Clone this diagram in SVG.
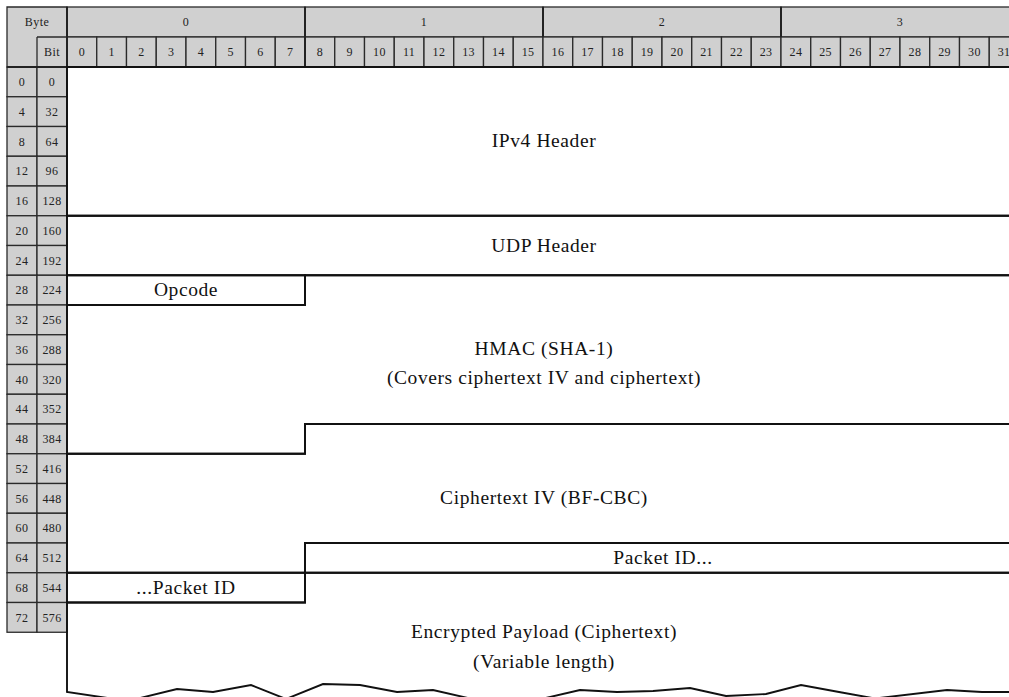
<svg xmlns="http://www.w3.org/2000/svg" width="1009" height="697" viewBox="0 0 1009 697">
<style>
.bg{fill:#ffffff}
.hc{fill:#d0d0d0;stroke:#2a2a2a;stroke-width:1.3}
.hl{fill:none;stroke:#2a2a2a;stroke-width:1.3}
.hb{fill:none;stroke:#222;stroke-width:2}
.ht{font-family:"Liberation Serif",serif;font-size:12px;fill:#222;text-anchor:middle;letter-spacing:0.4px}
.f{fill:none;stroke:#111;stroke-width:1.9;stroke-linejoin:miter}
.t{font-family:"Liberation Serif",serif;font-size:19.5px;fill:#111;text-anchor:middle;letter-spacing:0.6px}
</style>
<rect class="bg" x="0" y="0" width="1009" height="697"/>
<g id="header">
<path class="hc" d="M7,7 H67 V67 H7 Z"/>
<path class="hl" d="M37,37 H67 M37,37 V67"/>
<text class="ht" x="37" y="26">Byte</text>
<text class="ht" x="52" y="56">Bit</text>
<rect class="hc" x="67" y="7" width="238" height="30"/>
<rect class="hc" x="305" y="7" width="238" height="30"/>
<rect class="hc" x="543" y="7" width="238" height="30"/>
<rect class="hc" x="781" y="7" width="238" height="30"/>
<text class="ht" x="186" y="26">0</text>
<text class="ht" x="424" y="26">1</text>
<text class="ht" x="662" y="26">2</text>
<text class="ht" x="900" y="26">3</text>
<g id="bits">
<rect class="hc" x="67" y="37" width="29.75" height="30"/><text class="ht" x="82" y="56">0</text>
<rect class="hc" x="96.75" y="37" width="29.75" height="30"/><text class="ht" x="111.6" y="56">1</text>
<rect class="hc" x="126.5" y="37" width="29.75" height="30"/><text class="ht" x="141.4" y="56">2</text>
<rect class="hc" x="156.25" y="37" width="29.75" height="30"/><text class="ht" x="171.1" y="56">3</text>
<rect class="hc" x="186" y="37" width="29.75" height="30"/><text class="ht" x="200.9" y="56">4</text>
<rect class="hc" x="215.75" y="37" width="29.75" height="30"/><text class="ht" x="230.6" y="56">5</text>
<rect class="hc" x="245.5" y="37" width="29.75" height="30"/><text class="ht" x="260.4" y="56">6</text>
<rect class="hc" x="275.25" y="37" width="29.75" height="30"/><text class="ht" x="290.1" y="56">7</text>
<rect class="hc" x="305" y="37" width="29.75" height="30"/><text class="ht" x="319.9" y="56">8</text>
<rect class="hc" x="334.75" y="37" width="29.75" height="30"/><text class="ht" x="349.6" y="56">9</text>
<rect class="hc" x="364.5" y="37" width="29.75" height="30"/><text class="ht" x="379.4" y="56">10</text>
<rect class="hc" x="394.25" y="37" width="29.75" height="30"/><text class="ht" x="409.1" y="56">11</text>
<rect class="hc" x="424" y="37" width="29.75" height="30"/><text class="ht" x="438.9" y="56">12</text>
<rect class="hc" x="453.75" y="37" width="29.75" height="30"/><text class="ht" x="468.6" y="56">13</text>
<rect class="hc" x="483.5" y="37" width="29.75" height="30"/><text class="ht" x="498.4" y="56">14</text>
<rect class="hc" x="513.25" y="37" width="29.75" height="30"/><text class="ht" x="528.1" y="56">15</text>
<rect class="hc" x="543" y="37" width="29.75" height="30"/><text class="ht" x="557.9" y="56">16</text>
<rect class="hc" x="572.75" y="37" width="29.75" height="30"/><text class="ht" x="587.6" y="56">17</text>
<rect class="hc" x="602.5" y="37" width="29.75" height="30"/><text class="ht" x="617.4" y="56">18</text>
<rect class="hc" x="632.25" y="37" width="29.75" height="30"/><text class="ht" x="647.1" y="56">19</text>
<rect class="hc" x="662" y="37" width="29.75" height="30"/><text class="ht" x="676.9" y="56">20</text>
<rect class="hc" x="691.75" y="37" width="29.75" height="30"/><text class="ht" x="706.6" y="56">21</text>
<rect class="hc" x="721.5" y="37" width="29.75" height="30"/><text class="ht" x="736.4" y="56">22</text>
<rect class="hc" x="751.25" y="37" width="29.75" height="30"/><text class="ht" x="766.1" y="56">23</text>
<rect class="hc" x="781" y="37" width="29.75" height="30"/><text class="ht" x="795.9" y="56">24</text>
<rect class="hc" x="810.75" y="37" width="29.75" height="30"/><text class="ht" x="825.6" y="56">25</text>
<rect class="hc" x="840.5" y="37" width="29.75" height="30"/><text class="ht" x="855.4" y="56">26</text>
<rect class="hc" x="870.25" y="37" width="29.75" height="30"/><text class="ht" x="885.1" y="56">27</text>
<rect class="hc" x="900" y="37" width="29.75" height="30"/><text class="ht" x="914.9" y="56">28</text>
<rect class="hc" x="929.75" y="37" width="29.75" height="30"/><text class="ht" x="944.6" y="56">29</text>
<rect class="hc" x="959.5" y="37" width="29.75" height="30"/><text class="ht" x="974.4" y="56">30</text>
<rect class="hc" x="989.25" y="37" width="29.75" height="30"/><text class="ht" x="1004.1" y="56">31</text>
</g>
<path class="hb" d="M67,7 V67 M305,7 V67 M543,7 V37 M781,7 V37"/>
<g id="rows">
<rect class="hc" x="7" y="67" width="30" height="29.75"/><rect class="hc" x="37" y="67" width="30" height="29.75"/><text class="ht" x="22" y="86">0</text><text class="ht" x="52" y="86">0</text>
<rect class="hc" x="7" y="96.75" width="30" height="29.75"/><rect class="hc" x="37" y="96.75" width="30" height="29.75"/><text class="ht" x="22" y="115.8">4</text><text class="ht" x="52" y="115.8">32</text>
<rect class="hc" x="7" y="126.5" width="30" height="29.75"/><rect class="hc" x="37" y="126.5" width="30" height="29.75"/><text class="ht" x="22" y="145.5">8</text><text class="ht" x="52" y="145.5">64</text>
<rect class="hc" x="7" y="156.25" width="30" height="29.75"/><rect class="hc" x="37" y="156.25" width="30" height="29.75"/><text class="ht" x="22" y="175.3">12</text><text class="ht" x="52" y="175.3">96</text>
<rect class="hc" x="7" y="186" width="30" height="29.75"/><rect class="hc" x="37" y="186" width="30" height="29.75"/><text class="ht" x="22" y="205">16</text><text class="ht" x="52" y="205">128</text>
<rect class="hc" x="7" y="215.75" width="30" height="29.75"/><rect class="hc" x="37" y="215.75" width="30" height="29.75"/><text class="ht" x="22" y="234.8">20</text><text class="ht" x="52" y="234.8">160</text>
<rect class="hc" x="7" y="245.5" width="30" height="29.75"/><rect class="hc" x="37" y="245.5" width="30" height="29.75"/><text class="ht" x="22" y="264.5">24</text><text class="ht" x="52" y="264.5">192</text>
<rect class="hc" x="7" y="275.25" width="30" height="29.75"/><rect class="hc" x="37" y="275.25" width="30" height="29.75"/><text class="ht" x="22" y="294.3">28</text><text class="ht" x="52" y="294.3">224</text>
<rect class="hc" x="7" y="305" width="30" height="29.75"/><rect class="hc" x="37" y="305" width="30" height="29.75"/><text class="ht" x="22" y="324">32</text><text class="ht" x="52" y="324">256</text>
<rect class="hc" x="7" y="334.75" width="30" height="29.75"/><rect class="hc" x="37" y="334.75" width="30" height="29.75"/><text class="ht" x="22" y="353.8">36</text><text class="ht" x="52" y="353.8">288</text>
<rect class="hc" x="7" y="364.5" width="30" height="29.75"/><rect class="hc" x="37" y="364.5" width="30" height="29.75"/><text class="ht" x="22" y="383.5">40</text><text class="ht" x="52" y="383.5">320</text>
<rect class="hc" x="7" y="394.25" width="30" height="29.75"/><rect class="hc" x="37" y="394.25" width="30" height="29.75"/><text class="ht" x="22" y="413.3">44</text><text class="ht" x="52" y="413.3">352</text>
<rect class="hc" x="7" y="424" width="30" height="29.75"/><rect class="hc" x="37" y="424" width="30" height="29.75"/><text class="ht" x="22" y="443">48</text><text class="ht" x="52" y="443">384</text>
<rect class="hc" x="7" y="453.75" width="30" height="29.75"/><rect class="hc" x="37" y="453.75" width="30" height="29.75"/><text class="ht" x="22" y="472.8">52</text><text class="ht" x="52" y="472.8">416</text>
<rect class="hc" x="7" y="483.5" width="30" height="29.75"/><rect class="hc" x="37" y="483.5" width="30" height="29.75"/><text class="ht" x="22" y="502.5">56</text><text class="ht" x="52" y="502.5">448</text>
<rect class="hc" x="7" y="513.25" width="30" height="29.75"/><rect class="hc" x="37" y="513.25" width="30" height="29.75"/><text class="ht" x="22" y="532.3">60</text><text class="ht" x="52" y="532.3">480</text>
<rect class="hc" x="7" y="543" width="30" height="29.75"/><rect class="hc" x="37" y="543" width="30" height="29.75"/><text class="ht" x="22" y="562">64</text><text class="ht" x="52" y="562">512</text>
<rect class="hc" x="7" y="572.75" width="30" height="29.75"/><rect class="hc" x="37" y="572.75" width="30" height="29.75"/><text class="ht" x="22" y="591.8">68</text><text class="ht" x="52" y="591.8">544</text>
<rect class="hc" x="7" y="602.5" width="30" height="29.75"/><rect class="hc" x="37" y="602.5" width="30" height="29.75"/><text class="ht" x="22" y="621.5">72</text><text class="ht" x="52" y="621.5">576</text>
</g>
<path class="hb" d="M7,67 H1009"/>
</g>
<g id="ipv4-header">
<path class="f" d="M67,67 H1025 V215.75 H67 Z"/>
<text class="t" x="544" y="147">IPv4 Header</text>
</g>
<g id="udp-header">
<path class="f" d="M67,215.75 H1025 V275.25 H67 Z"/>
<text class="t" x="544" y="252">UDP Header</text>
</g>
<g id="opcode">
<path class="f" d="M67,275.25 H305 V305 H67 Z"/>
<text class="t" x="186" y="296">Opcode</text>
</g>
<g id="hmac">
<path class="f" d="M305,275.25 H1025 V424 H305 V453.75 H67 V305 H305 Z"/>
<text class="t" x="544" y="355">HMAC (SHA-1)</text>
<text class="t" x="544" y="384">(Covers ciphertext IV and ciphertext)</text>
</g>
<g id="ciphertext-iv">
<path class="f" d="M305,424 H1025 V543 H305 V572.75 H67 V453.75 H305 Z"/>
<text class="t" x="544" y="504">Ciphertext IV (BF-CBC)</text>
</g>
<g id="packet-id-1">
<path class="f" d="M305,543 H1025 V572.75 H305 Z"/>
<text class="t" x="663" y="564">Packet ID...</text>
</g>
<g id="packet-id-2">
<path class="f" d="M67,572.75 H305 V602.5 H67 Z"/>
<text class="t" x="186" y="594">...Packet ID</text>
</g>
<g id="payload">
<path class="f" d="M67,602.5 H305 V572.75 H1025 V692 L982,692 L947,690 L875,698.5 L839,692 L801,685 L766,694 L726,696 L690,688 L653,691 L617,692 L580,690 L507,707 L433,690 L397,692 L360,685 L323,684 L286,699 L251,685 L213,692 L177,689 L128,701 L67,692 Z"/>
<text class="t" x="544" y="638">Encrypted Payload (Ciphertext)</text>
<text class="t" x="544" y="668">(Variable length)</text>
</g>
<g id="connectors"/>
</svg>
